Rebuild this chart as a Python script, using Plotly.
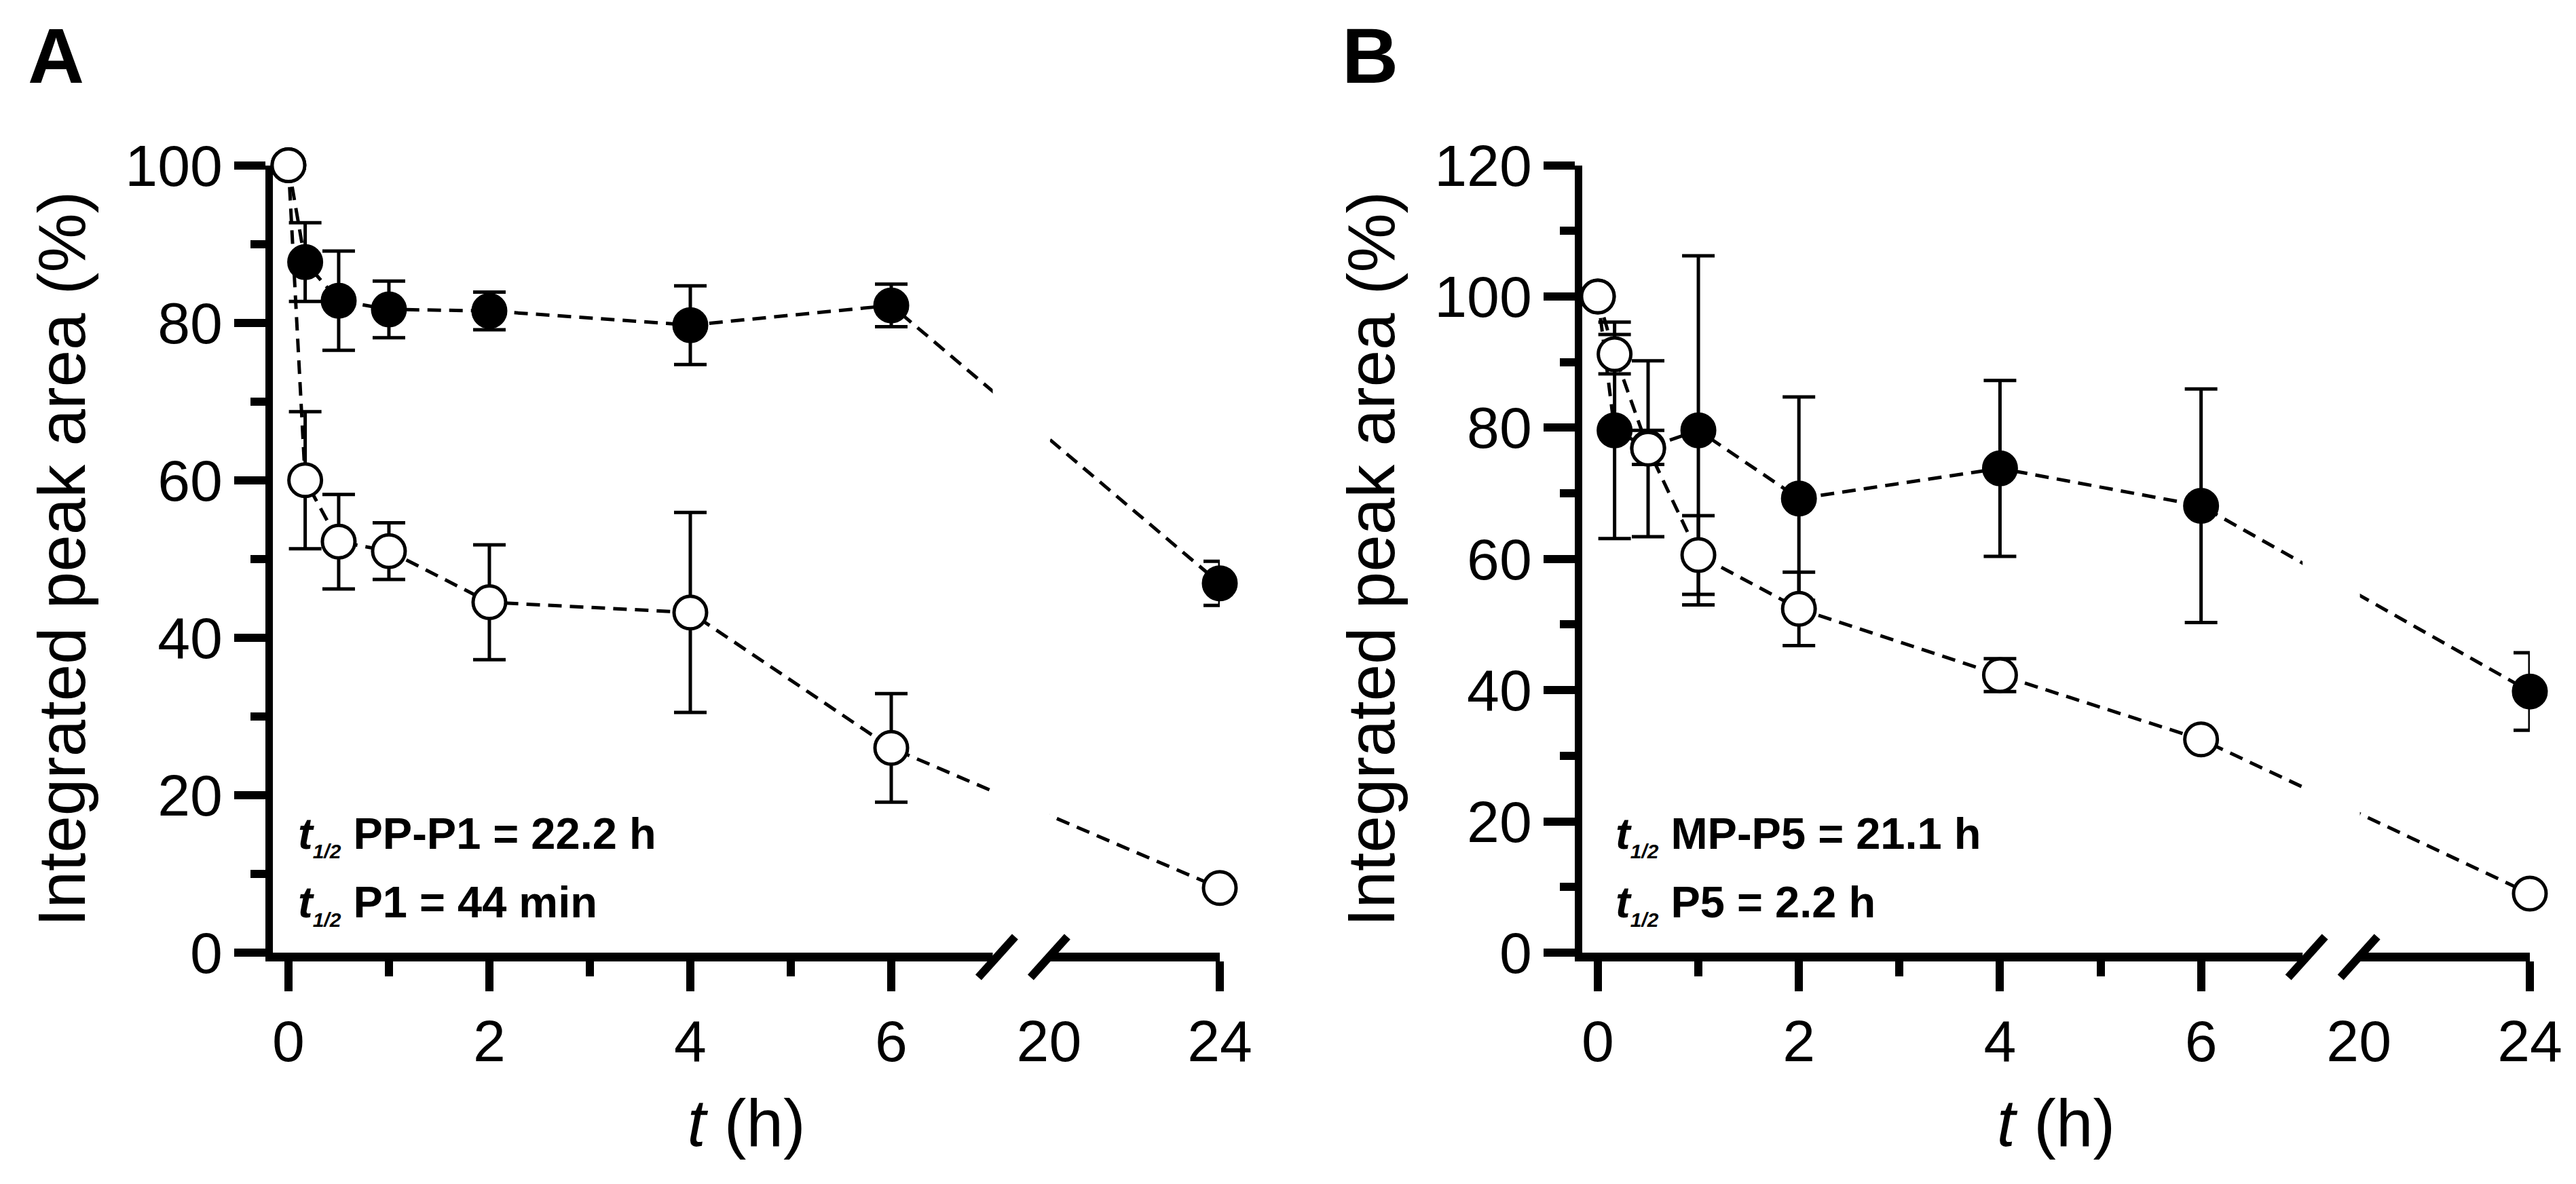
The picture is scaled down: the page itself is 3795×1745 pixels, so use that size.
import plotly.graph_objects as go

# sampling times (h)
time_h = [0, 1/6, 0.5, 1, 2, 4, 6, 24]

# panel A: PP-P1 (filled) and P1 (open), integrated peak area (%)
pp_p1 = [100, 87.7, 82.8, 81.7, 81.5, 79.7, 82.2, 46.9]
pp_p1_sd = [0, 5.0, 6.3, 3.6, 2.4, 5.0, 2.7, 2.8]
p1 = [100, 60.0, 52.2, 51.0, 44.5, 43.2, 26.0, 8.2]
p1_sd = [0, 8.7, 6.0, 3.6, 7.3, 12.7, 6.9, 0]

# panel B: MP-P5 (filled) and P5 (open)
mp_p5 = [100, 79.6, 77.0, 79.6, 69.2, 73.8, 68.1, 39.8]
mp_p5_sd = [0, 16.5, 2.6, 26.6, 15.5, 13.4, 17.8, 5.9]
p5 = [100, 91.2, 76.8, 60.6, 52.4, 42.3, 32.5, 9.0]
p5_sd = [0, 3.0, 13.4, 6.0, 5.6, 2.5, 0, 0]

x_major = [0, 2, 4, 6, 24]
x_minor = [1, 3, 5]
x_break_label = [20]

half_life_A = ["PP-P1 = 22.2 h", "P1 = 44 min"]
half_life_B = ["MP-P5 = 21.1 h", "P5 = 2.2 h"]

# broken time axis: 0-7 h full scale, 20-24 h squeezed in after the break
SEG2_AT = 7.57
SEG2_SCALE = 0.425
GAP = (7.01, 7.58)
SLASHES = (7.05, 7.57)
PLOT_BOTTOM = 0.2  # paper y of the plot floor (y = 0)


def brk(t):
    if t < 20:
        return t
    return SEG2_AT + (t - 20) * SEG2_SCALE


FONT = "Arial, Liberation Sans, sans-serif"
XR = [-0.155, brk(24)]


def series(y, sd, fill, xa, ya):
    return go.Scatter(
        x=[brk(t) for t in time_h], y=y,
        mode="lines+markers",
        line=dict(color="black", width=5, dash="20px,12px"),
        marker=dict(symbol="circle", size=48, color=fill,
                    line=dict(color="black", width=5)),
        error_y=dict(type="data", array=sd, visible=True,
                     thickness=5, width=24, color="black"),
        cliponaxis=False, showlegend=False, xaxis=xa, yaxis=ya)


fig = go.Figure()
fig.add_trace(series(pp_p1, pp_p1_sd, "black", "x", "y"))
fig.add_trace(series(p1, p1_sd, "white", "x", "y"))
fig.add_trace(series(mp_p5, mp_p5_sd, "black", "x2", "y2"))
fig.add_trace(series(p5, p5_sd, "white", "x2", "y2"))
# empty traces so the overlaying label axes get drawn
for xa, ya in [("x3", "y"), ("x4", "y2")]:
    fig.add_trace(go.Scatter(x=[], y=[], xaxis=xa, yaxis=ya,
                             showlegend=False, hoverinfo="skip"))


def xaxis(domain, anchor):
    return dict(domain=domain, anchor=anchor, range=XR,
                showline=True, linewidth=13, linecolor="black",
                ticks="outside", ticklen=44, tickwidth=12, tickcolor="black",
                tickvals=[brk(t) for t in x_major],
                ticktext=[str(t) for t in x_major],
                minor=dict(tickvals=x_minor, ticks="outside", ticklen=22,
                           tickwidth=12, tickcolor="black"),
                tickfont=dict(size=86, color="black", family=FONT),
                showgrid=False, zeroline=False, automargin=False,
                title=dict(text="<i>t</i> (h)", standoff=45,
                           font=dict(size=98, color="black", family=FONT)))


def xlabel_axis(over, anchor):
    # only carries the "20" label at the start of the second segment
    return dict(overlaying=over, anchor=anchor, side="bottom",
                range=XR, showline=True, linewidth=13,
                linecolor="rgba(0,0,0,0)",
                ticks="outside", ticklen=44, tickwidth=12,
                tickcolor="rgba(0,0,0,0)",
                tickvals=[brk(t) for t in x_break_label],
                ticktext=[str(t) for t in x_break_label],
                tickfont=dict(size=86, color="black", family=FONT),
                showgrid=False, zeroline=False, automargin=False)


def yaxis(anchor, top):
    return dict(domain=[PLOT_BOTTOM, 0.865], anchor=anchor, range=[0, top],
                showline=True, linewidth=11, linecolor="black",
                ticks="outside", ticklen=46, tickwidth=12, tickcolor="black",
                tickvals=list(range(0, top + 1, 20)),
                minor=dict(tickvals=list(range(10, top, 20)), ticks="outside",
                           ticklen=22, tickwidth=12, tickcolor="black"),
                tickfont=dict(size=86, color="black", family=FONT),
                showgrid=False, zeroline=False, automargin=False,
                title=dict(text="Integrated peak area (%)", standoff=30,
                           font=dict(size=98, color="black", family=FONT)))


fig.update_layout(
    width=3795, height=1745, autosize=False,
    margin=dict(l=0, r=0, t=0, b=0),
    paper_bgcolor="white", plot_bgcolor="white",
    font=dict(family=FONT, color="black"),
    xaxis=xaxis([0.10382, 0.47141], "y"),
    yaxis=yaxis("x", 100),
    xaxis2=xaxis([0.61212, 0.97997], "y2"),
    yaxis2=yaxis("x2", 120),
    xaxis3=xlabel_axis("x", "y"),
    xaxis4=xlabel_axis("x2", "y2"),
)

shapes = []
for xr in ["x", "x2"]:
    # blank the axis line and the connecting lines across the break
    shapes.append(dict(type="rect", xref=xr, yref="paper",
                       x0=GAP[0], x1=GAP[1],
                       ysizemode="pixel", yanchor=PLOT_BOTTOM,
                       y0=-16, y1=1200,
                       fillcolor="white", line=dict(width=0), layer="above"))
    for s in SLASHES:
        shapes.append(dict(type="line", xref=xr, yref="paper",
                           xsizemode="pixel", xanchor=s, x0=-27, x1=27,
                           ysizemode="pixel", yanchor=PLOT_BOTTOM,
                           y0=-36.5, y1=23.5,
                           line=dict(color="black", width=12), layer="above"))
fig.update_layout(shapes=shapes)

sub = '<sub><span style="font-size:30px"><i>1/2</i></span></sub>'
notes = []
for x0, texts in [(0.11304, half_life_A), (0.6245, half_life_B)]:
    for y0, txt in zip([0.2991, 0.2412], texts):
        notes.append(dict(xref="paper", yref="paper", x=x0, y=y0,
                          xanchor="left", yanchor="middle", showarrow=False,
                          text="<b><i>t</i>" + sub + " " + txt + "</b>",
                          font=dict(size=65, color="black", family=FONT)))
for x0, lab in [(0.01976, "A"), (0.5299, "B")]:
    notes.append(dict(xref="paper", yref="paper", x=x0, y=0.9576,
                      xanchor="center", yanchor="middle", showarrow=False,
                      text="<b>" + lab + "</b>",
                      font=dict(size=115, color="black", family=FONT)))
fig.update_layout(annotations=notes)

fig.write_html("out.html")
